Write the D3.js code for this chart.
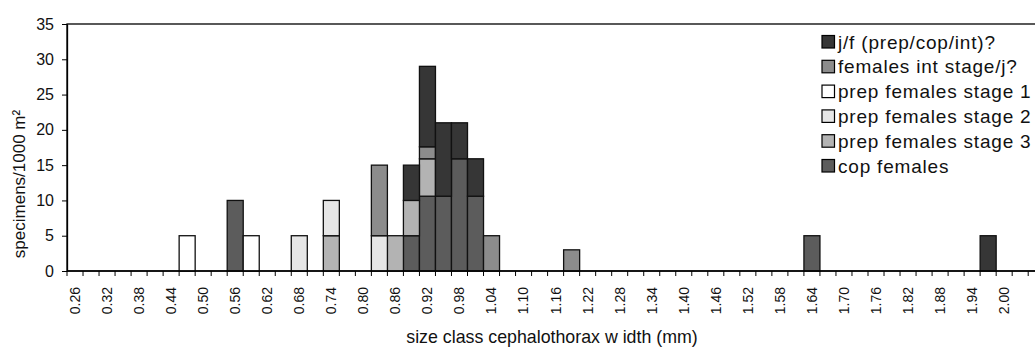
<!DOCTYPE html>
<html>
<head>
  <meta charset="utf-8">
  <style>
    body { margin: 0; background: #fff; }
    svg { display: block; font-family: "Liberation Sans", Arial, sans-serif; }
  </style>
</head>
<body>
  <div id="chart"></div>
  <script src="https://d3js.org/d3.v7.min.js"></script>
  <script>
    // size classes (mm), one band each, 0.03 wide
    const sizeClasses = ["0.26","0.29","0.32","0.35","0.38","0.41","0.44","0.47","0.50","0.53",
      "0.56","0.59","0.62","0.65","0.68","0.71","0.74","0.77","0.80","0.83",
      "0.86","0.89","0.92","0.95","0.98","1.01","1.04","1.07","1.10","1.13",
      "1.16","1.19","1.22","1.25","1.28","1.31","1.34","1.37","1.40","1.43",
      "1.46","1.49","1.52","1.55","1.58","1.61","1.64","1.67","1.70","1.73",
      "1.76","1.79","1.82","1.85","1.88","1.91","1.94","1.97","2.00","2.03","2.06"];

    // only every other class gets a label
    const tickLabels = ["0.26","0.32","0.38","0.44","0.50","0.56","0.62","0.68","0.74","0.80",
      "0.86","0.92","0.98","1.04","1.10","1.16","1.22","1.28","1.34","1.40",
      "1.46","1.52","1.58","1.64","1.70","1.76","1.82","1.88","1.94","2.00"];

    // classes that have specimens
    const occupied   = ["0.47","0.56","0.59","0.68","0.74","0.83","0.86","0.89","0.92","0.95","0.98","1.01","1.04","1.19","1.64","1.97"];
    const copFemales = [0, 10, 0, 0, 0, 0,  0, 5, 10.6, 10.6, 15.9, 10.6, 0, 0, 5, 0];
    const prepStage3 = [0, 0,  0, 0, 5, 0,  5, 5, 5.3,  0,    0,    0,    0, 0, 0, 0];
    const prepStage2 = [0, 0,  0, 5, 5, 5,  0, 0, 0,    0,    0,    0,    0, 0, 0, 0];
    const prepStage1 = [5, 0,  5, 0, 0, 0,  0, 0, 0,    0,    0,    0,    0, 0, 0, 0];
    const femalesInt = [0, 0,  0, 0, 0, 10, 0, 0, 1.7,  0,    0,    0,    5, 3, 0, 0];
    const jfUnsure   = [0, 0,  0, 0, 0, 0,  0, 5, 11.4, 10.4, 5.1,  5.3,  0, 0, 0, 5];

    const seriesNames = ["cop females", "prep females stage 3", "prep females stage 2",
      "prep females stage 1", "females int stage/j?", "j/f (prep/cop/int)?"];
    const seriesValues = [copFemales, prepStage3, prepStage2, prepStage1, femalesInt, jfUnsure];
    const seriesColors = ["#5c5c5c", "#b3b3b3", "#e6e6e6", "#ffffff", "#8c8c8c", "#363636"];

    const W = 1035, H = 352;
    const plotLeft = 67, plotTop = 24, plotBottom = 271;
    const band = 16.02;

    const svg = d3.select("#chart").append("svg")
        .attr("width", W).attr("height", H);

    const x = d3.scaleBand()
        .domain(sizeClasses)
        .range([plotLeft, plotLeft + band * sizeClasses.length])
        .padding(0);

    const y = d3.scaleLinear()
        .domain([0, 35])
        .range([plotBottom, plotTop]);

    // rows for the stack
    const rows = occupied.map((c, i) => {
      const r = {size: c};
      seriesNames.forEach((s, k) => r[s] = seriesValues[k][i]);
      return r;
    });
    const stacked = d3.stack().keys(seriesNames)(rows);

    // plot frame (right side falls outside the picture)
    svg.append("rect")
        .attr("x", plotLeft).attr("y", plotTop)
        .attr("width", x.range()[1] - plotLeft).attr("height", plotBottom - plotTop)
        .attr("fill", "none").attr("stroke", "#000").attr("stroke-width", 1.3);

    // bars
    svg.selectAll("g.series")
        .data(stacked)
        .enter().append("g")
        .attr("class", "series")
        .attr("fill", (d, i) => seriesColors[i])
        .selectAll("rect")
        .data(d => d.filter(p => p[1] - p[0] > 0))
        .enter().append("rect")
        .attr("x", d => x(d.data.size))
        .attr("width", x.bandwidth())
        .attr("y", d => y(d[1]))
        .attr("height", d => y(d[0]) - y(d[1]))
        .attr("stroke", "#111")
        .attr("stroke-width", 1.3);

    // y axis
    const yAxis = d3.axisLeft(y)
        .tickValues(d3.range(0, 36, 5))
        .tickSize(5).tickSizeOuter(0).tickPadding(8);
    const gy = svg.append("g")
        .attr("transform", "translate(" + plotLeft + ",0)")
        .call(yAxis);
    gy.select(".domain").attr("stroke-width", 1.3);
    gy.selectAll("text").attr("font-size", 16).attr("fill", "#111");

    // x axis: ticks between classes, labels on every other class
    const gx = svg.append("g");
    gx.append("line")
        .attr("x1", plotLeft).attr("x2", W)
        .attr("y1", plotBottom).attr("y2", plotBottom)
        .attr("stroke", "#000").attr("stroke-width", 1.3);
    gx.selectAll("line.tick")
        .data(sizeClasses)
        .enter().append("line")
        .attr("class", "tick")
        .attr("x1", d => x(d)).attr("x2", d => x(d))
        .attr("y1", plotBottom).attr("y2", plotBottom + 5)
        .attr("stroke", "#000");
    gx.selectAll("text")
        .data(tickLabels)
        .enter().append("text")
        .attr("transform", d => "translate(" + (x(d) + x.bandwidth() / 2) + ",287) rotate(-90)")
        .attr("text-anchor", "end")
        .attr("dy", "0.35em")
        .attr("font-size", 14)
        .attr("fill", "#111")
        .text(d => d);

    // axis titles
    svg.append("text")
        .attr("transform", "translate(19,184) rotate(-90)")
        .attr("text-anchor", "middle")
        .attr("dy", "0.35em")
        .attr("font-size", 17)
        .attr("fill", "#111")
        .text("specimens/1000 m²");

    svg.append("text")
        .attr("x", 552).attr("y", 343)
        .attr("text-anchor", "middle")
        .attr("font-size", 17.8)
        .attr("fill", "#111")
        .text("size class cephalothorax w idth (mm)");

    // legend, top series first
    const legendOrder = d3.range(seriesNames.length).reverse();
    const lg = svg.selectAll("g.legend")
        .data(legendOrder)
        .enter().append("g")
        .attr("class", "legend")
        .attr("transform", (d, i) => "translate(822," + (42 + i * 24.8) + ")");
    lg.append("rect")
        .attr("x", 0).attr("y", -6.5)
        .attr("width", 12.5).attr("height", 12.5)
        .attr("fill", d => seriesColors[d])
        .attr("stroke", "#000").attr("stroke-width", 1.2);
    lg.append("text")
        .attr("x", 16).attr("dy", "0.35em")
        .attr("font-size", 19)
        .attr("letter-spacing", 0.8)
        .attr("fill", "#111")
        .text(d => seriesNames[d]);
  </script>
</body>
</html>
